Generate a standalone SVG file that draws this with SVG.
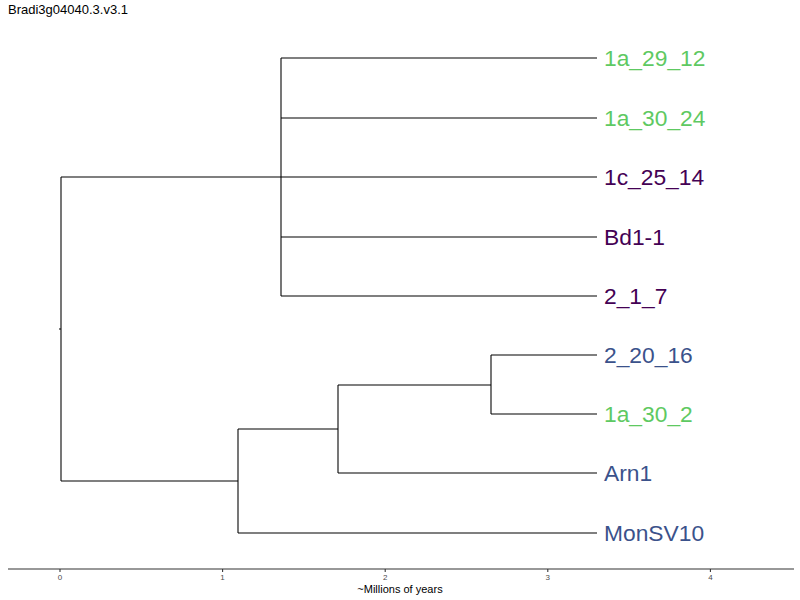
<svg xmlns="http://www.w3.org/2000/svg" width="800" height="600" viewBox="0 0 800 600">
<style>
.e{stroke:#000;stroke-width:1.07;fill:none;stroke-linecap:butt}
.lab{font-family:"Liberation Sans",Arial,sans-serif;font-size:22.8px}
.g{fill:#5ec962}.p{fill:#440154}.b{fill:#3b528b}
.tk{font-family:"Liberation Sans",Arial,sans-serif;font-size:8px;fill:#4d4d4d;text-anchor:middle}
</style>
<rect width="800" height="600" fill="#fff"/>
<text x="8" y="14" font-family="Liberation Sans,Arial,sans-serif" font-size="13" fill="#000">Bradi3g04040.3.v3.1</text>
<g id="edges">
<path class="e" d="M59,329H61M61,177V481M61,177H281M281,58V296M281,58H597M281,118H597M281,177H597M281,237H597M281,296H597M61,481H238M238,429V533M238,533H597M238,429H338M338,385V473M338,473H597M338,385H491M491,355V414M491,355H597M491,414H597"/>
</g>
<g id="n1"><text class="lab g" x="604" y="66">1a_29_12</text></g>
<g id="n2"><text class="lab g" x="604" y="126">1a_30_24</text></g>
<g id="n3"><text class="lab p" x="604" y="185">1c_25_14</text></g>
<g id="n4"><text class="lab p" x="604" y="245">Bd1-1</text></g>
<g id="n5"><text class="lab p" x="604" y="304">2_1_7</text></g>
<g id="n6"><text class="lab b" x="604" y="363">2_20_16</text></g>
<g id="n7"><text class="lab g" x="604" y="422">1a_30_2</text></g>
<g id="n8"><text class="lab b" x="604" y="481">Arn1</text></g>
<g id="n9"><text class="lab b" x="604" y="541">MonSV10</text></g>
<g id="axis">
<line x1="8" y1="569" x2="794" y2="569" stroke="#333" stroke-width="1.07"/>
<path d="M60,569v3M222.6,569v3M385.2,569v3M547.8,569v3M710.4,569v3" stroke="#333" stroke-width="1.07"/>
<text class="tk" x="60" y="580">0</text>
<text class="tk" x="222.6" y="580">1</text>
<text class="tk" x="385.2" y="580">2</text>
<text class="tk" x="547.8" y="580">3</text>
<text class="tk" x="710.4" y="580">4</text>
<text x="400" y="593" font-family="Liberation Sans,Arial,sans-serif" font-size="11" text-anchor="middle" fill="#000">~Millions of years</text>
</g>
</svg>
